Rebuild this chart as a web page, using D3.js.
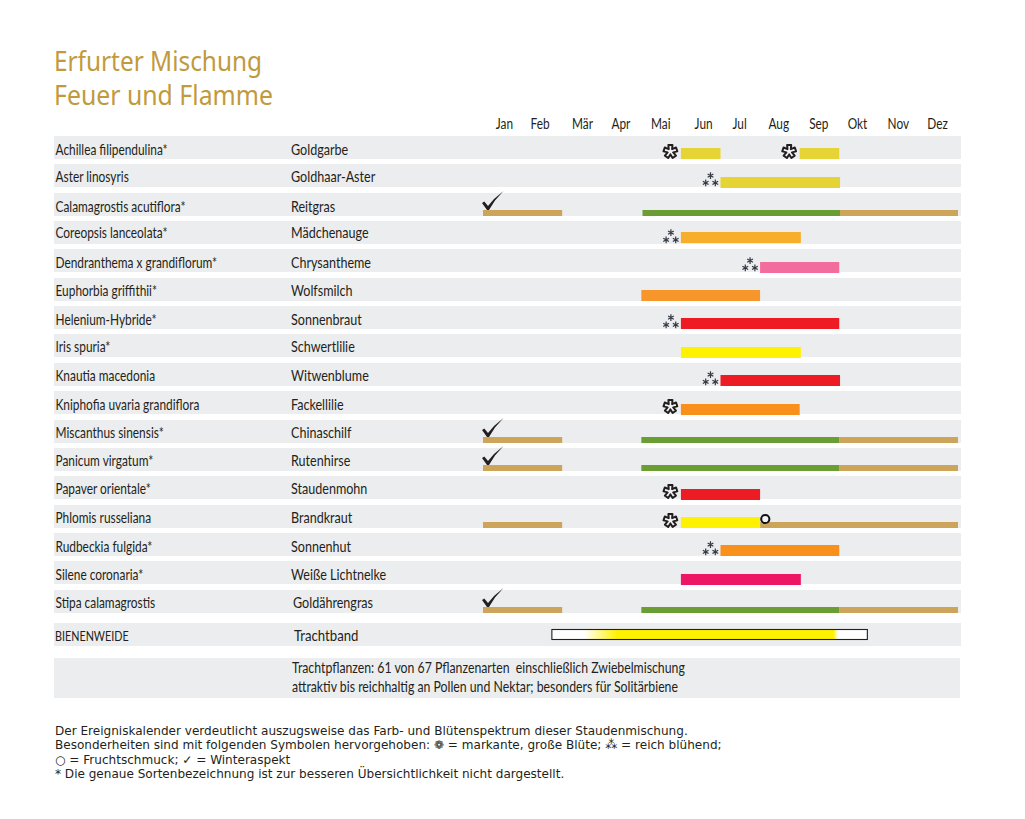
<!DOCTYPE html>
<html><head><meta charset="utf-8">
<style>html,body{margin:0;padding:0;background:#fff}svg{display:block}</style>
<script src="https://cdn.jsdelivr.net/npm/d3@7"></script></head><body>
<svg id="c" width="1025" height="819"></svg>
<script>
const months = ["Jan","Feb","Mär","Apr","Mai","Jun","Jul","Aug","Sep","Okt","Nov","Dez"];
const monthCentres = [0.53,1.43,2.5,3.47,4.48,5.56,6.47,7.46,8.47,9.45,10.48,11.47];
const latin = ["Achillea filipendulina*","Aster linosyris","Calamagrostis acutiflora*","Coreopsis lanceolata*","Dendranthema x grandiflorum*","Euphorbia griffithii*","Helenium-Hybride*","Iris spuria*","Knautia macedonia","Kniphofia uvaria grandiflora","Miscanthus sinensis*","Panicum virgatum*","Papaver orientale*","Phlomis russeliana","Rudbeckia fulgida*","Silene coronaria*","Stipa calamagrostis"];
const common = ["Goldgarbe","Goldhaar-Aster","Reitgras","Mädchenauge","Chrysantheme","Wolfsmilch","Sonnenbraut","Schwertlilie","Witwenblume","Fackellilie","Chinaschilf","Rutenhirse","Staudenmohn","Brandkraut","Sonnenhut","Weiße Lichtnelke","Goldährengras"];
// flowering periods: [row, startMonth, endMonth, colour]
const flowers = [[0,5,6,"#e6d335"],[0,8,9,"#e6d335"],[1,6,9.02,"#e6d335"],[3,5,8.03,"#f7ae2b"],[4,7,9,"#f26d9e"],[5,4,7,"#f7962a"],[6,5,9,"#ed1c24"],[7,5,8.03,"#fff200"],[8,6,9.02,"#ed1c24"],[9,5,8,"#f9901c"],[12,5,7,"#ed1c24"],[13,5,7,"#fff200"],[14,6,9,"#f9901c"],[15,5,8.03,"#ed1566"]];
// foliage / grass periods
const green = [[2,4.03,9.02],[10,4,9],[11,4,9],[16,4,9]];
const brown = [[2,0,2],[2,9.02,12],[10,0,2],[10,9,12],[11,0,2],[11,9,12],[13,0,2],[13,7,12],[16,0,2],[16,9,12]];
// symbols: [row, month]
const bigFlower = [[0,5],[0,8],[9,5],[12,5],[13,5]];
const richBloom = [[1,6],[3,5],[4,7],[6,5],[8,6],[14,6]];
const winter = [2,10,11,16];
const fruit = [[13,7]];
const bandStart = 1.74, bandEnd = 9.71;
const bandStops = [[1.74,"#ffffff"],[2.55,"#ffffff"],[3.4,"#fff200"],[8.85,"#fff200"],[8.97,"#ffffff"],[9.71,"#ffffff"]];
const rowTops = [136,164,193,221,249,278,306,334,363,391,420,448,476,505,533,561,590];
const barOffsets = [12,13,0,11,13,12,12,13,12,13,0,0,13,12,12,13,0];
const textOffsets = [19,18,19,17,19,18,19,18,18,19,18,18,18,18,19,19,18];
const notes = ["Der Ereigniskalender verdeutlicht auszugsweise das Farb- und Blütenspektrum dieser Staudenmischung.","Besonderheiten sind mit folgenden Symbolen hervorgehoben: ❁ = markante, große Blüte; ⁂ = reich blühend;","○ = Fruchtschmuck; ✓ = Winteraspekt","* Die genaue Sortenbezeichnung ist zur besseren Übersichtlichkeit nicht dargestellt."];

const svg = d3.select("#c");
const x = d3.scaleLinear().domain([0,12]).range([483,958]);
const rowH = 23, GREY = "#ecedee", F = "Lato, 'Noto Sans', sans-serif";
const rowY = i => rowTops[i];

function label(t, px, py, size, sx){
  return svg.append("text").attr("transform",`translate(${px},${py}) scale(${sx},1)`)
    .attr("font-family",F).attr("font-size",size).attr("fill","#231f20").text(t);
}
// title
["Erfurter Mischung","Feuer und Flamme"].forEach((t,i)=>
  svg.append("text").attr("x",54).attr("y",71+i*34).attr("font-family","'Noto Sans',sans-serif")
   .attr("font-size",26.5).attr("fill","#c19a3b").attr("textLength",i?219:208).attr("lengthAdjust","spacingAndGlyphs").text(t));
// bands
svg.append("g").selectAll("rect").data(rowTops).join("rect")
  .attr("x",54).attr("y",d=>d).attr("width",907).attr("height",rowH).attr("fill",GREY);
svg.append("rect").attr("x",54).attr("y",623).attr("width",907).attr("height",23).attr("fill",GREY);
svg.append("rect").attr("x",54).attr("y",658).attr("width",906).attr("height",40).attr("fill",GREY);
// month axis
const axis = d3.axisTop(x).tickValues(monthCentres).tickFormat((d,i)=>months[i]).tickSize(0).tickPadding(0);
const ax = svg.append("g").attr("transform","translate(0,129)").call(axis);
ax.select(".domain").remove();
ax.selectAll("text").attr("font-family",F).attr("font-size",16).attr("fill","#231f20")
  .attr("transform","scale(0.74,1)").attr("dy",0);
// row labels
latin.forEach((t,i)=>label(t,55.5,rowY(i)+textOffsets[i],15.5,0.767));
common.forEach((t,i)=>label(t,i==16?293:291,rowY(i)+textOffsets[i],15.5,0.81));
label("BIENENWEIDE",55,641,14,0.77);
label("Trachtband",294,641,15.5,0.85);
label("Trachtpflanzen: 61 von 67 Pflanzenarten  einschließlich Zwiebelmischung",292,673,15.5,0.793).attr("xml:space","preserve");
label("attraktiv bis reichhaltig an Pollen und Nektar; besonders für Solitärbiene",292,692,15.5,0.793);
// bars
const H = 11, h2 = 6;
svg.append("g").selectAll("rect").data(brown).join("rect")
  .attr("x",d=>x(d[1])).attr("width",d=>x(d[2])-x(d[1])).attr("y",d=>rowY(d[0])+rowH-h2).attr("height",h2).attr("fill","#cda55a");
svg.append("g").selectAll("rect").data(green).join("rect")
  .attr("x",d=>x(d[1])).attr("width",d=>x(d[2])-x(d[1])).attr("y",d=>rowY(d[0])+rowH-h2).attr("height",h2).attr("fill","#6a9e32");
svg.append("g").selectAll("rect").data(flowers).join("rect")
  .attr("x",d=>x(d[1])).attr("width",d=>x(d[2])-x(d[1])).attr("y",d=>rowY(d[0])+barOffsets[d[0]]).attr("height",H).attr("fill",d=>d[3]);
// band
const grad = svg.append("defs").append("linearGradient").attr("id","band");
grad.selectAll("stop").data(bandStops).join("stop")
  .attr("offset",d=>(d[0]-bandStart)/(bandEnd-bandStart)).attr("stop-color",d=>d[1]);
svg.append("rect").attr("x",x(bandStart)).attr("width",x(bandEnd)-x(bandStart)).attr("y",629.5).attr("height",10)
  .attr("fill","url(#band)").attr("stroke","#231f20").attr("stroke-width",1.1);
// big flowers: five distinct lobes
const lobes = d3.lineRadial().curve(d3.curveLinearClosed);
const flowerPts = d3.range(5).flatMap(i=>{
  const a=i*2*Math.PI/5;
  return [[a-0.3,6.9],[a+0.3,6.9],[a+2*Math.PI/10,2.9]];
});
svg.append("g").selectAll("path").data(bigFlower).join("path")
  .attr("transform",d=>`translate(${x(d[1])-10.5},${rowY(d[0])+15.5})`)
  .attr("d",lobes(flowerPts)).attr("fill","#f4f4f4").attr("stroke","#231f20").attr("stroke-width",2).attr("stroke-linejoin","round");
// rich bloom: three small asterisks
const star = d3.symbol().type(d3.symbolAsterisk).size(30);
const triple = [[0,-3.7],[-4.8,3.6],[4.8,3.6]];
const rg = svg.append("g").selectAll("g").data(richBloom).join("g")
  .attr("transform",d=>`translate(${x(d[1])-10},${rowY(d[0])+15.3})`);
rg.selectAll("path").data(triple).join("path")
  .attr("transform",d=>`translate(${d[0]},${d[1]})`).attr("d",star).attr("stroke","#333844").attr("stroke-width",1.2).attr("fill","none");
// winter tick
const tick = d3.line().curve(d3.curveLinear);
svg.append("g").selectAll("path").data(winter).join("path")
  .attr("transform",d=>`translate(${x(0)},${rowY(d)})`)
  .attr("d",tick([[-1,10],[1.3,8.5],[5,13],[11,6],[20.5,-2],[12,7.5],[6,17],[4,17]])+"Z").attr("fill","#231f20");
// fruit ring
svg.append("g").selectAll("circle").data(fruit).join("circle")
  .attr("cx",d=>x(d[1])+5.2).attr("cy",d=>rowY(d[0])+14).attr("r",4.1).attr("fill","#f4f4f4").attr("stroke","#111").attr("stroke-width",2);
// notes
notes.forEach((t,i)=>svg.append("text").attr("x",55).attr("y",735+i*14.4)
  .attr("font-family","'DejaVu Sans',sans-serif").attr("font-size",12.05).attr("fill","#231f20").text(t));
</script></body></html>
